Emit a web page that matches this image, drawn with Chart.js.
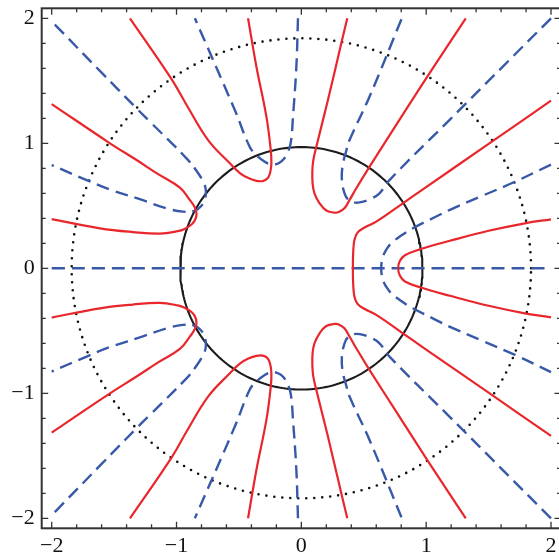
<!DOCTYPE html>
<html lang="en">
<head>
    <meta charset="UTF-8">
    <title>Contours</title>
    <script src="https://cdn.jsdelivr.net/npm/chart.js@4/dist/chart.umd.min.js"></script>
    <style>
        html, body { margin: 0; padding: 0; overflow: hidden; background: #fff; }
    </style>
</head>
<body>
<canvas id="myChart" width="562" height="555"></canvas>

<script>
    // axis settings
    var axisMin = -2.08;
    var axisMax = 2.08;
    var majorTicks = [-2, -1, 0, 1, 2];
    var minorTicks = [-1.8, -1.6, -1.4, -1.2, -0.8, -0.6, -0.4, -0.2, 0.2, 0.4, 0.6, 0.8, 1.2, 1.4, 1.6, 1.8];

    // circles (radius)
    var solidRadius = 0.97;
    var dottedRadius = 1.84;

    // red curves
    var red1 = [[2.0,0.392],[1.79,0.36],[1.5,0.3],[1.19,0.22],[0.95,0.152],[0.83,0.105],[0.79,0.06],[0.775,0],
        [0.79,-0.06],[0.83,-0.105],[0.95,-0.152],[1.19,-0.22],[1.5,-0.3],[1.79,-0.36],[2.0,-0.392]];
    var red2 = [[2.0,1.341],[1.5,0.995],[0.965,0.626],[0.813,0.52],[0.6,0.373],[0.5,0.322],[0.45,0.285],[0.425,0.226],[0.415,0.12],[0.413,0],
        [0.415,-0.12],[0.425,-0.226],[0.45,-0.285],[0.5,-0.322],[0.6,-0.373],[0.813,-0.52],[0.965,-0.626],[1.5,-0.995],[2.0,-1.341]];
    var red3Top = [[1.317,2.0],[1.005,1.528],[0.765,1.155],[0.538,0.8],[0.44,0.64],[0.386,0.546],[0.345,0.48],[0.3,0.45],[0.266,0.445],[0.2,0.462],[0.146,0.52],[0.105,0.6],[0.09,0.68],[0.088,0.77],[0.095,0.86],[0.12,0.973],[0.213,1.346],[0.32,1.8],[0.368,2.0]];
    var red3Bot = [[1.317,-2.0],[1.005,-1.528],[0.765,-1.155],[0.538,-0.8],[0.44,-0.64],[0.386,-0.546],[0.345,-0.48],[0.3,-0.45],[0.266,-0.445],[0.2,-0.462],[0.146,-0.52],[0.105,-0.6],[0.09,-0.68],[0.088,-0.77],[0.095,-0.86],[0.12,-0.973],[0.213,-1.346],[0.32,-1.8],[0.368,-2.0]];
    var red4Top = [[-0.427,2.0],[-0.36,1.613],[-0.28,1.213],[-0.245,0.946],[-0.24,0.84],[-0.25,0.765],[-0.272,0.718],[-0.31,0.698],[-0.36,0.7],[-0.42,0.72],[-0.49,0.76],[-0.573,0.84],[-0.747,1.026],[-0.91,1.29],[-1.04,1.514],[-1.373,2.0]];
    var red4Bot = [[-0.427,-2.0],[-0.36,-1.613],[-0.28,-1.213],[-0.245,-0.946],[-0.24,-0.84],[-0.25,-0.765],[-0.272,-0.718],[-0.31,-0.698],[-0.36,-0.7],[-0.42,-0.72],[-0.49,-0.76],[-0.573,-0.84],[-0.747,-1.026],[-0.91,-1.29],[-1.04,-1.514],[-1.373,-2.0]];
    var red5Top = [[-2.0,1.314],[-1.533,1.0],[-1.32,0.866],[-1.15,0.755],[-0.973,0.645],[-0.893,0.546],[-0.855,0.49],[-0.84,0.44],[-0.85,0.39],[-0.88,0.35],[-0.935,0.315],[-0.99,0.297],[-1.133,0.277],[-1.35,0.29],[-1.613,0.32],[-2.0,0.394]];
    var red5Bot = [[-2.0,-1.314],[-1.533,-1.0],[-1.32,-0.866],[-1.15,-0.755],[-0.973,-0.645],[-0.893,-0.546],[-0.855,-0.49],[-0.84,-0.44],[-0.85,-0.39],[-0.88,-0.35],[-0.935,-0.315],[-0.99,-0.297],[-1.133,-0.277],[-1.35,-0.29],[-1.613,-0.32],[-2.0,-0.394]];

    // blue dashed curves
    var blue0 = [[-2.0,0],[2.0,0]];
    var blue1 = [[2.0,0.83],[1.712,0.693],[1.45,0.58],[1.186,0.466],[1.072,0.41],[0.893,0.32],[0.8,0.262],[0.72,0.2],[0.675,0.14],[0.653,0.09],[0.642,0.04],[0.64,0],
        [0.642,-0.04],[0.653,-0.09],[0.675,-0.14],[0.72,-0.2],[0.8,-0.262],[0.893,-0.32],[1.072,-0.41],[1.186,-0.466],[1.45,-0.58],[1.712,-0.693],[2.0,-0.83]];
    var blue2Top = [[2.0,2.0],[1.6,1.6],[1.186,1.186],[0.706,0.706],[0.626,0.6],[0.55,0.553],[0.466,0.527],[0.41,0.53],[0.37,0.555],[0.346,0.6],[0.325,0.7],[0.33,0.82],[0.36,0.94],[0.386,1.026],[0.546,1.373],[0.805,2.0]];
    var blue2Bot = [[2.0,-2.0],[1.6,-1.6],[1.186,-1.186],[0.706,-0.706],[0.626,-0.6],[0.55,-0.553],[0.466,-0.527],[0.41,-0.53],[0.37,-0.555],[0.346,-0.6],[0.325,-0.7],[0.33,-0.82],[0.36,-0.94],[0.386,-1.026],[0.546,-1.373],[0.805,-2.0]];
    var blue3Top = [[-0.027,2.0],[-0.04,1.613],[-0.067,1.213],[-0.086,1.0],[-0.12,0.906],[-0.16,0.855],[-0.2,0.834],[-0.245,0.832],[-0.293,0.853],[-0.36,0.906],[-0.413,0.97],[-0.533,1.266],[-0.853,2.0]];
    var blue3Bot = [[-0.027,-2.0],[-0.04,-1.613],[-0.067,-1.213],[-0.086,-1.0],[-0.12,-0.906],[-0.16,-0.855],[-0.2,-0.834],[-0.245,-0.832],[-0.293,-0.853],[-0.36,-0.906],[-0.413,-0.97],[-0.533,-1.266],[-0.853,-2.0]];
    var blue4Top = [[-1.975,1.95],[-1.6,1.565],[-1.307,1.266],[-1.213,1.173],[-0.92,0.88],[-0.84,0.78],[-0.78,0.68],[-0.765,0.62],[-0.775,0.545],[-0.81,0.49],[-0.853,0.46],[-0.95,0.453],[-1.08,0.48],[-1.3,0.555],[-1.533,0.63],[-1.72,0.706],[-2.0,0.826]];
    var blue4Bot = [[-1.975,-1.95],[-1.6,-1.565],[-1.307,-1.266],[-1.213,-1.173],[-0.92,-0.88],[-0.84,-0.78],[-0.78,-0.68],[-0.765,-0.62],[-0.775,-0.545],[-0.81,-0.49],[-0.853,-0.46],[-0.95,-0.453],[-1.08,-0.48],[-1.3,-0.555],[-1.533,-0.63],[-1.72,-0.706],[-2.0,-0.826]];

    var redCurves = [red1, red2, red3Top, red3Bot, red4Top, red4Bot, red5Top, red5Bot];
    var blueCurves = [blue0, blue1, blue2Top, blue2Bot, blue3Top, blue3Bot, blue4Top, blue4Bot];

    var RED = '#e8262b';
    var BLUE = '#3858a8';
    var SERIF = "'Liberation Serif', 'DejaVu Serif', serif";

    function toXY(arr) {
        return arr.map(function (p) { return {x: p[0], y: p[1]}; });
    }

    function circlePoints(r) {
        var pts = [];
        for (var i = 0; i <= 240; i++) {
            var a = i / 240 * Math.PI * 2;
            pts.push({x: r * Math.cos(a), y: r * Math.sin(a)});
        }
        return pts;
    }

    var datasets = [];
    redCurves.forEach(function (c) {
        datasets.push({data: toXY(c), borderColor: RED, borderWidth: 2.2, tension: 0.4});
    });
    blueCurves.forEach(function (c) {
        datasets.push({data: toXY(c), borderColor: BLUE, borderWidth: 2.4, borderDash: [13, 7], tension: 0.4});
    });
    datasets.push({data: circlePoints(solidRadius), borderColor: '#1c1c1c', borderWidth: 2.1, tension: 0});
    datasets.push({data: circlePoints(dottedRadius), borderColor: '#111', borderWidth: 2.6,
        borderDash: [0, 8], borderCapStyle: 'round', tension: 0});

    datasets.forEach(function (d) {
        d.showLine = true;
        d.pointRadius = 0;
        d.fill = false;
    });

    // frame with inward ticks on all four sides
    var frameTicks = {
        id: 'frameTicks',
        afterDatasetsDraw: function (chart) {
            var ctx = chart.ctx;
            var a = chart.chartArea;
            var xs = chart.scales.x, ys = chart.scales.y;
            ctx.save();
            ctx.strokeStyle = '#333';
            ctx.lineWidth = 1.3;
            function tick(v, len) {
                var px = xs.getPixelForValue(v);
                var py = ys.getPixelForValue(v);
                ctx.beginPath();
                ctx.moveTo(px, a.bottom); ctx.lineTo(px, a.bottom - len);
                ctx.moveTo(px, a.top); ctx.lineTo(px, a.top + len);
                ctx.moveTo(a.left, py); ctx.lineTo(a.left + len, py);
                ctx.moveTo(a.right, py); ctx.lineTo(a.right - len, py);
                ctx.stroke();
            }
            majorTicks.forEach(function (v) { tick(v, 6.5); });
            minorTicks.forEach(function (v) { tick(v, 4); });
            ctx.lineWidth = 2;
            ctx.strokeRect(a.left, a.top, a.right - a.left, a.bottom - a.top);
            ctx.restore();
        }
    };

    function label(v) {
        return v < 0 ? '\u2212' + Math.abs(v) : String(v);
    }

    Chart.defaults.font.family = SERIF;
    Chart.defaults.font.size = 22;

    var ctx = document.getElementById('myChart');
    var myChart = new Chart(ctx, {
        type: 'scatter',
        data: {datasets: datasets},
        plugins: [frameTicks],
        options: {
            responsive: false,
            animation: false,
            devicePixelRatio: 1,
            layout: {padding: {top: 8.3, right: 1, left: 0, bottom: 0}},
            plugins: {legend: {display: false}, tooltip: {enabled: false}},
            scales: {
                x: {
                    type: 'linear', min: axisMin, max: axisMax,
                    grid: {display: false, drawTicks: false},
                    border: {display: false},
                    afterBuildTicks: function (s) { s.ticks = majorTicks.map(function (v) { return {value: v}; }); },
                    afterFit: function (s) { s.height = 26.7; s.paddingLeft = 0; s.paddingRight = 0; },
                    ticks: {
                        padding: 5, maxRotation: 0, autoSkip: false, color: '#111',
                        font: {family: SERIF, size: 22},
                        callback: function (v) { return label(v); }
                    }
                },
                y: {
                    type: 'linear', min: axisMin, max: axisMax,
                    grid: {display: false, drawTicks: false},
                    border: {display: false},
                    afterBuildTicks: function (s) { s.ticks = majorTicks.map(function (v) { return {value: v}; }); },
                    afterFit: function (s) { s.width = 41.7; s.paddingTop = 0; s.paddingBottom = 0; },
                    ticks: {
                        padding: 7, autoSkip: false, color: '#111',
                        font: {family: SERIF, size: 22},
                        callback: function (v) { return label(v); }
                    }
                }
            }
        }
    });
</script>
</body>
</html>
